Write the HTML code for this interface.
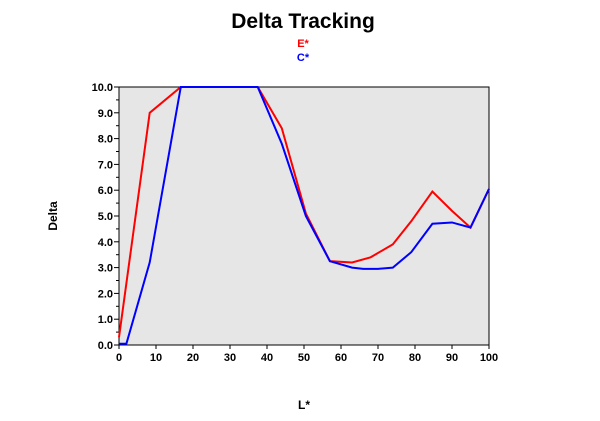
<!DOCTYPE html>
<html><head><meta charset="utf-8"><style>body{margin:0;background:#fff}svg{display:block;font-family:"Liberation Sans",Arial,sans-serif}</style></head>
<body>
<svg width="600" height="421" viewBox="0 0 600 421">
<text x="303" y="28" text-anchor="middle" font-size="21" font-weight="bold">Delta Tracking</text>
<text x="303" y="47" text-anchor="middle" font-size="11" font-weight="bold" fill="#ff0000">E*</text>
<text x="303" y="61" text-anchor="middle" font-size="11" font-weight="bold" fill="#0000ff">C*</text>
<text x="57" y="216" text-anchor="middle" font-size="12" font-weight="bold" transform="rotate(-90 57 216)">Delta</text>
<text x="304" y="409" text-anchor="middle" font-size="12" font-weight="bold">L*</text>
<rect x="119" y="87" width="370" height="258" fill="#e6e6e6" stroke="#000" stroke-width="1"/>
<g id="axes"></g>
<g id="series"></g>
</svg>
<script>
const xTicks=[0,10,20,30,40,50,60,70,80,90,100];
const yTicks=[0,1,2,3,4,5,6,7,8,9,10];
const eX=[0,8.3,16.7,37.5,44,50.5,57,63,68,74,79,84.7,90,95,100];
const eY=[0.3,9.0,10,10,8.4,5.1,3.25,3.2,3.4,3.9,4.8,5.95,5.2,4.55,6.05];
const cX=[0,2,8.3,16.7,37.5,44,50.5,57,63,66,70,74,79,84.7,90,95,100];
const cY=[0.05,0.05,3.2,10,10,7.8,5.0,3.25,3.0,2.95,2.95,3.0,3.6,4.7,4.75,4.55,6.05];
const NS='http://www.w3.org/2000/svg';
const sx=v=>119+v/100*370, sy=v=>345-v/10*258;
const ax=document.getElementById('axes'), se=document.getElementById('series');
function mk(t,a,p){const e=document.createElementNS(NS,t);for(const k in a)e.setAttribute(k,a[k]);p.appendChild(e);return e;}
xTicks.forEach(v=>{
 const l=mk('line',{x1:sx(v),x2:sx(v),y1:345,y2:349,stroke:'#000'},ax);
 
 
 const t=mk('text',{x:sx(v),y:361,'text-anchor':'middle','font-size':11,'font-weight':'bold'},ax);t.textContent=v;
 
 
});
yTicks.forEach(v=>{
 const l=mk('line',{x1:114,x2:119,y1:sy(v),y2:sy(v),stroke:'#000'},ax);
 
 
 if(v<10){const m=mk('line',{x1:116,x2:119,y1:sy(v+0.5),y2:sy(v+0.5),stroke:'#000'},ax);
 
 }
 const t=mk('text',{x:113,y:sy(v)+4,'text-anchor':'end','font-size':11,'font-weight':'bold'},ax);t.textContent=v.toFixed(1);
 
 
});
function line(xs,ys,c,n){
 const p=mk('polyline',{points:xs.map((x,i)=>sx(x)+','+sy(ys[i])).join(' '),fill:'none',stroke:c,'stroke-width':2},se);
 
 
}
line(eX,eY,'#ff0000','series-e-line');
line(cX,cY,'#0000ff','series-c-line');
</script>
</body></html>
